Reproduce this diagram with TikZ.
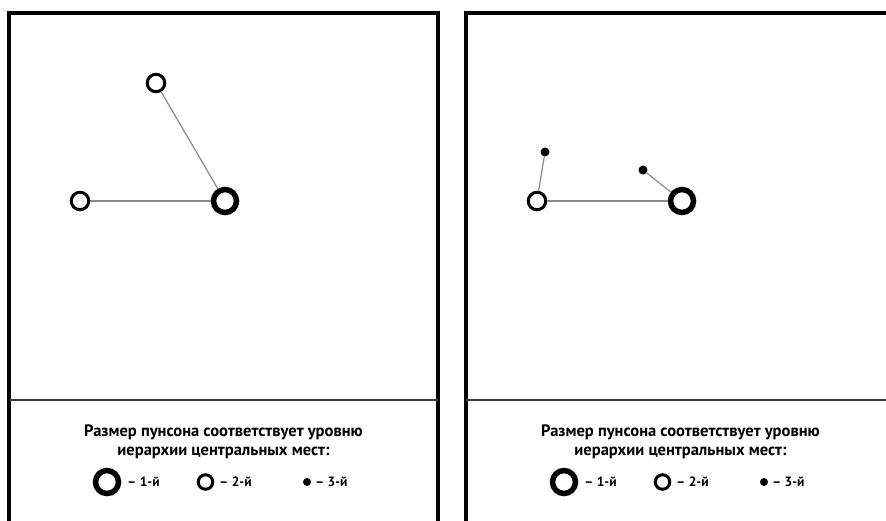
\documentclass[tikz,border=0pt]{standalone}
\usepackage{fontspec}
\setmainfont{PT Sans}
\usetikzlibrary{positioning}
\definecolor{linkgray}{HTML}{8A8A8A}
\definecolor{rulegray}{HTML}{3A3A3A}

\begin{document}
\begin{tikzpicture}[x=1pt,y=-1pt,
  rank1/.style={circle,draw,line width=5.5pt,fill=white,inner sep=0pt,minimum size=23pt},
  rank2/.style={circle,draw,line width=3pt,fill=white,inner sep=0pt,minimum size=17.5pt},
  rank3/.style={circle,fill=black,inner sep=0pt,minimum size=9pt},
  link/.style={draw=linkgray,line width=1.2pt},
  frame/.style={line width=3.5pt},
  caption/.style={font=\bfseries\fontsize{16.5}{18.5}\selectfont,align=center},
  keylabel/.style={font=\bfseries\fontsize{13.5}{15}\selectfont,inner sep=0pt}]
  \useasboundingbox (0,0) rectangle (886,520);
  \clip (0,0) rectangle (886,520);
  \fill[white] (0,0) rectangle (886,520);

  % two panels with the legend strip
  \foreach \dx/\p in {0/a,457/b} {
    \begin{scope}[xshift=\dx pt]
      \draw[frame] (9,540) -- (9,13) -- (438,13) -- (438,540);
      \draw[rulegray,line width=2pt] (9,400) -- (438,400);
      \node[caption] (cap\p) at (223.5,442) {Размер пунсона соответствует уровню\\иерархии центральных мест:};
      \node[rank1] (key1\p) at (107,482) {};
      \node[keylabel,right=6pt of key1\p] {– 1-й};
      \node[rank2,minimum size=14.5pt] (key2\p) at (205.5,482) {};
      \node[keylabel,right=5pt of key2\p] {– 2-й};
      \node[rank3,minimum size=8pt] (key3\p) at (307,482) {};
      \node[keylabel,right=4pt of key3\p] {– 3-й};
    \end{scope}
  }

  % left panel
  \node[rank1] (centerA) at (225,201) {};
  \node[rank2] (westA) at (80,201) {};
  \node[rank2] (northA) at (156,83) {};
  \draw[link] (westA) -- (centerA);
  \draw[link] (northA) -- (centerA);

  % right panel
  \node[rank1] (centerB) at (682,201) {};
  \node[rank2] (westB) at (537,201) {};
  \node[rank3] (dotW) at (545,152) {};
  \node[rank3] (dotE) at (643,170) {};
  \draw[link] (westB) -- (centerB);
  \draw[link] (dotW) -- (westB);
  \draw[link] (dotE) -- (centerB);
\end{tikzpicture}
\end{document}
